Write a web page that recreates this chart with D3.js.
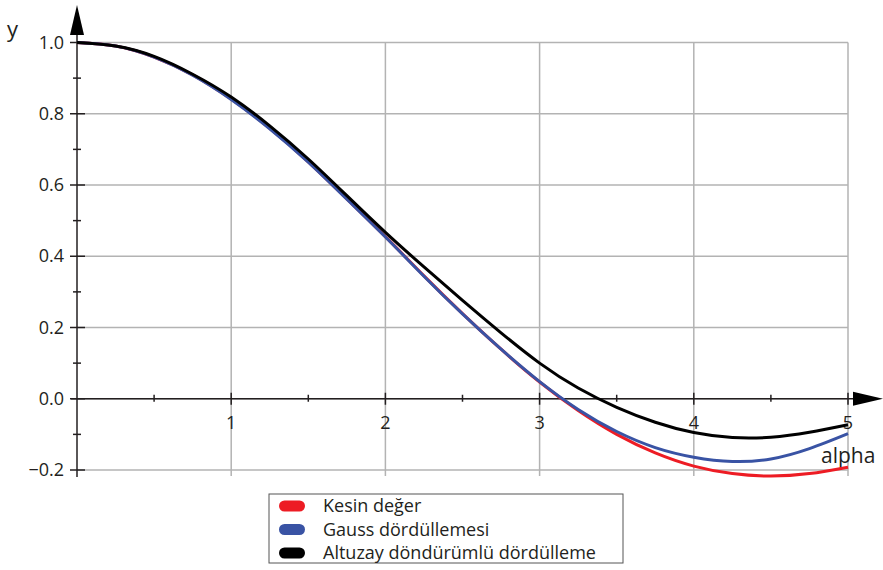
<!DOCTYPE html>
<html>
<head>
<meta charset="utf-8">
<script src="https://cdn.jsdelivr.net/npm/d3@7"></script>
<style>
  body { margin: 0; background: #fff; }
  svg text { font-family: "Open Sans", "Noto Sans", sans-serif; fill: #231f20; }
</style>
</head>
<body>
<svg id="chart" width="883" height="570"></svg>
<script>
// values, step 0.25 in alpha
const alpha = [0, 0.25, 0.5, 0.75, 1, 1.25, 1.5, 1.75, 2, 2.25, 2.5, 2.75, 3, 3.25, 3.5, 3.75, 4, 4.25, 4.5, 4.75, 5];
const kesin = [1.000, 0.990, 0.959, 0.909, 0.841, 0.759, 0.665, 0.561, 0.455, 0.345, 0.239, 0.139, 0.047, -0.033, -0.100, -0.152, -0.189, -0.210, -0.217, -0.210, -0.192];
const gauss = [1.000, 0.990, 0.959, 0.908, 0.840, 0.758, 0.664, 0.560, 0.454, 0.344, 0.238, 0.139, 0.048, -0.030, -0.092, -0.137, -0.164, -0.176, -0.169, -0.140, -0.098];
const altuzay = [1.000, 0.990, 0.961, 0.911, 0.847, 0.766, 0.673, 0.570, 0.467, 0.370, 0.276, 0.185, 0.100, 0.030, -0.024, -0.066, -0.095, -0.109, -0.108, -0.094, -0.073];

const xTicks = [1, 2, 3, 4, 5];
const xMinor = [0.5, 1.5, 2.5, 3.5, 4.5];
const yTicks = [-0.2, 0.0, 0.2, 0.4, 0.6, 0.8, 1.0];
const yMinor = [-0.1, 0.1, 0.3, 0.5, 0.7, 0.9];

const seriesNames = ["Kesin değer", "Gauss dördüllemesi", "Altuzay döndürümlü dördülleme"];
const seriesColors = ["#ed1c24", "#3953a4", "#000000"];
const seriesData = [kesin, gauss, altuzay];

const svg = d3.select("#chart");

const x = d3.scaleLinear().domain([0, 5]).range([77, 848]);
const y = d3.scaleLinear().domain([-0.2, 1.0]).range([470, 42.5]);

// grid
const grid = svg.append("g").attr("stroke", "#b3b3b3").attr("stroke-width", 1.5);
grid.selectAll(".gx").data(xTicks).join("line")
    .attr("x1", d => x(d)).attr("x2", d => x(d))
    .attr("y1", y(1.0)).attr("y2", y(-0.2) + 6);
grid.selectAll(".gy").data(yTicks).join("line")
    .attr("x1", x(0)).attr("x2", x(5))
    .attr("y1", d => y(d)).attr("y2", d => y(d));

// axes
const ax = svg.append("g").attr("stroke", "#231f20").attr("stroke-width", 1.5);
ax.append("line").attr("x1", x(0) - 6).attr("x2", 858).attr("y1", y(0)).attr("y2", y(0));
ax.append("line").attr("x1", x(0)).attr("x2", x(0)).attr("y1", y(-0.2) + 7).attr("y2", 30);

svg.append("path").attr("d", `M${x(0)},5 L${x(0) - 7},35 L${x(0) + 7},35 Z`).attr("fill", "#000");
svg.append("path").attr("d", `M883,${y(0)} L853,${y(0) - 7} L853,${y(0) + 7} Z`).attr("fill", "#000");

ax.selectAll(".tx").data(xTicks).join("line")
    .attr("x1", d => x(d)).attr("x2", d => x(d))
    .attr("y1", y(0) - 6).attr("y2", y(0) + 6);
ax.selectAll(".mx").data(xMinor).join("line")
    .attr("x1", d => x(d)).attr("x2", d => x(d))
    .attr("y1", y(0) - 4).attr("y2", y(0) + 3);
ax.selectAll(".ty").data(yTicks).join("line")
    .attr("x1", x(0) - 7).attr("x2", x(0) + 8)
    .attr("y1", d => y(d)).attr("y2", d => y(d));
ax.selectAll(".my").data(yMinor).join("line")
    .attr("x1", x(0) - 4).attr("x2", x(0) + 4)
    .attr("y1", d => y(d)).attr("y2", d => y(d));

// tick labels
svg.selectAll(".lx").data(xTicks).join("text")
    .attr("x", d => x(d)).attr("y", y(0) + 30)
    .attr("text-anchor", "middle").attr("font-size", 18)
    .text(d => d);
svg.selectAll(".ly").data(yTicks).join("text")
    .attr("x", 64).attr("y", d => y(d) + 6)
    .attr("text-anchor", "end").attr("font-size", 18)
    .text(d => d3.format(".1f")(d).replace("-", "\u2212"));

svg.append("text").attr("x", 7).attr("y", 37).attr("font-size", 22).text("y");
svg.append("text").attr("x", 821).attr("y", 463).attr("font-size", 21).text("alpha");

// curves
const line = d3.line().curve(d3.curveNatural)
    .x((d, i) => x(alpha[i])).y(d => y(d));
svg.selectAll(".curve").data(seriesData).join("path")
    .attr("fill", "none")
    .attr("stroke", (d, i) => seriesColors[i])
    .attr("stroke-width", 3)
    .attr("d", d => line(d));

// legend
const lg = svg.append("g");
lg.append("rect").attr("x", 269).attr("y", 494).attr("width", 354).attr("height", 69)
    .attr("fill", "#fff").attr("stroke", "#555").attr("stroke-width", 1);
seriesNames.forEach((name, i) => {
    const cy = 506 + i * 23.5;
    lg.append("rect").attr("x", 279).attr("y", cy - 5.5).attr("width", 26).attr("height", 11)
        .attr("rx", 5.5).attr("fill", seriesColors[i]);
    lg.append("text").attr("x", 323).attr("y", cy + 6).attr("font-size", 18).text(name);
});
</script>
</body>
</html>
